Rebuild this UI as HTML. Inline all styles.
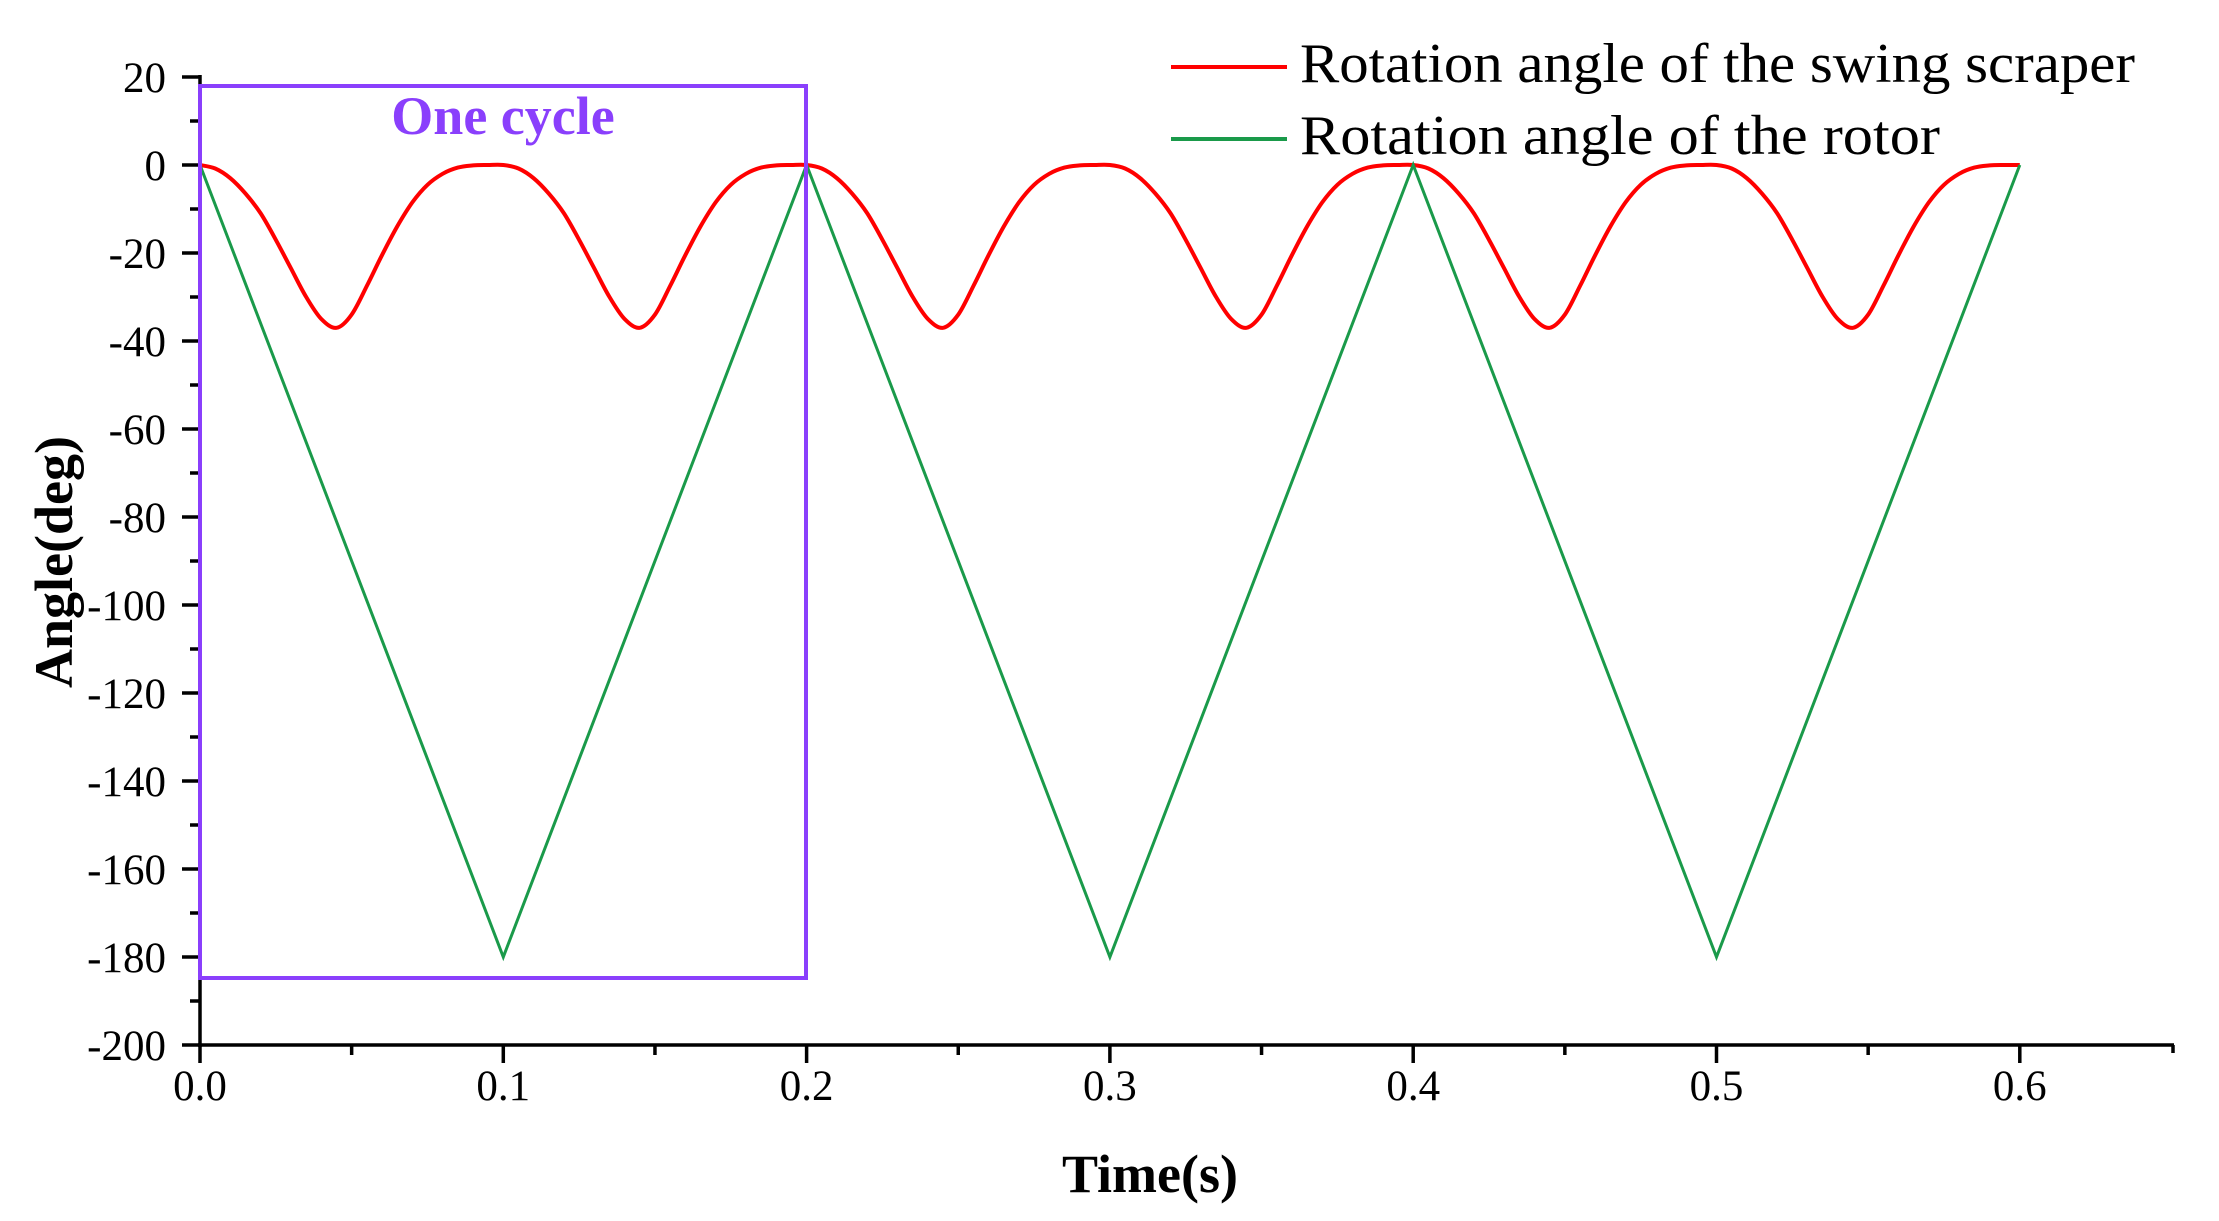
<!DOCTYPE html>
<html><head><meta charset="utf-8"><style>
html,body{margin:0;padding:0;background:#fff;}
svg{display:block;}
text{font-family:"Liberation Serif",serif;}
</style></head><body>
<svg id="chart" width="2219" height="1221" viewBox="0 0 2219 1221" xmlns="http://www.w3.org/2000/svg">
<g id="axes"></g>
<g id="series"></g>
<rect x="200" y="86" width="606" height="892" fill="none" stroke="#8a3ffc" stroke-width="4"/>
<text x="503" y="134" font-size="54" font-weight="bold" fill="#8a3ffc" text-anchor="middle">One cycle</text>
<g>
<line x1="1171" y1="67" x2="1287" y2="67" stroke="#ff0000" stroke-width="4"/>
<text x="1300" y="82" font-size="56" fill="#000" textLength="835" lengthAdjust="spacingAndGlyphs">Rotation angle of the swing scraper</text>
<line x1="1171" y1="139" x2="1287" y2="139" stroke="#1a9a4a" stroke-width="4"/>
<text x="1300" y="154" font-size="56" fill="#000" textLength="640" lengthAdjust="spacingAndGlyphs">Rotation angle of the rotor</text>
</g>
<text x="1150" y="1192" font-size="54" font-weight="bold" text-anchor="middle">Time(s)</text>
<text transform="translate(72,562) rotate(-90)" font-size="54" font-weight="bold" text-anchor="middle">Angle(deg)</text>
</svg>
<script>
const xTicks = [0.0, 0.1, 0.2, 0.3, 0.4, 0.5, 0.6];
const xTickLabels = ["0.0","0.1","0.2","0.3","0.4","0.5","0.6"];
const yTicks = [20, 0, -20, -40, -60, -80, -100, -120, -140, -160, -180, -200];
const yTickLabels = ["20","0","-20","-40","-60","-80","-100","-120","-140","-160","-180","-200"];
const rotorTime = [0, 0.1, 0.2, 0.3, 0.4, 0.5, 0.6];
const rotorAngle = [0, -180, 0, -180, 0, -180, 0];
const scraperAngle = [
0,-0.8,-3,-6.5,-11,-17,-23.5,-30,-35,-37,-34,-27.5,-20.5,-14,-8.5,-4.5,-2,-0.6,-0.1,0,
0,-0.8,-3,-6.5,-11,-17,-23.5,-30,-35,-37,-34,-27.5,-20.5,-14,-8.5,-4.5,-2,-0.6,-0.1,0,
0,-0.8,-3,-6.5,-11,-17,-23.5,-30,-35,-37,-34,-27.5,-20.5,-14,-8.5,-4.5,-2,-0.6,-0.1,0,
0,-0.8,-3,-6.5,-11,-17,-23.5,-30,-35,-37,-34,-27.5,-20.5,-14,-8.5,-4.5,-2,-0.6,-0.1,0,
0,-0.8,-3,-6.5,-11,-17,-23.5,-30,-35,-37,-34,-27.5,-20.5,-14,-8.5,-4.5,-2,-0.6,-0.1,0,
0,-0.8,-3,-6.5,-11,-17,-23.5,-30,-35,-37,-34,-27.5,-20.5,-14,-8.5,-4.5,-2,-0.6,-0.1,0,
0];
const scraperStep = 0.005;

const NS = "http://www.w3.org/2000/svg";
const X0 = 200, XPER = 3033; // px per second
const Y0 = 165, YPER = 4.4;  // px per degree
function xs(t){ return X0 + t * XPER; }
function ys(v){ return Y0 - v * YPER; }
function mk(tag, attrs, parent){
  const e = document.createElementNS(NS, tag);
  for (const k in attrs) e.setAttribute(k, attrs[k]);
  parent.appendChild(e);
  return e;
}
const axes = document.getElementById('axes');
const series = document.getElementById('series');

const yAxis = mk('line', {x1:X0, y1:ys(20)-2, x2:X0, y2:ys(-200)+2, stroke:'#000','stroke-width':3.5}, axes);


const xAxis = mk('line', {x1:X0-2, y1:ys(-200), x2:2174, y2:ys(-200), stroke:'#000','stroke-width':3.5}, axes);


const xEnd = mk('line', {x1:2173, y1:ys(-200), x2:2173, y2:ys(-200)+8, stroke:'#000','stroke-width':3.5}, axes);



yTicks.forEach((v, i) => {
  const y = ys(v);
  const tk = mk('line', {x1:X0-18, y1:y, x2:X0, y2:y, stroke:'#000','stroke-width':3.5}, axes);
  
  
  if (i < yTicks.length - 1) {
    const ym = ys(v - 10);
    const mt = mk('line', {x1:X0-10, y1:ym, x2:X0, y2:ym, stroke:'#000','stroke-width':3.5}, axes);
    
    
  }
  const lb = mk('text', {x:166, y:y+15, 'font-size':43, 'text-anchor':'end'}, axes);
  lb.textContent = yTickLabels[i];
  
  
});
const yB = ys(-200);
xTicks.forEach((t, i) => {
  const x = xs(t);
  const tk = mk('line', {x1:x, y1:yB, x2:x, y2:yB+18, stroke:'#000','stroke-width':3.5}, axes);
  
  
  const xm = xs(t + 0.05);
  if (xm < 2170) {
    const mt = mk('line', {x1:xm, y1:yB, x2:xm, y2:yB+10, stroke:'#000','stroke-width':3.5}, axes);
    
    
  }
  const lb = mk('text', {x:x, y:yB+55, 'font-size':43, 'text-anchor':'middle'}, axes);
  lb.textContent = xTickLabels[i];
  
  
});

const gPts = rotorTime.map((t, i) => xs(t).toFixed(1) + ',' + ys(rotorAngle[i]).toFixed(1)).join(' ');
const gLine = mk('polyline', {points:gPts, fill:'none', stroke:'#1a9a4a', 'stroke-width':3, 'stroke-linejoin':'miter'}, series);



const P = scraperAngle.map((v, i) => [xs(i * scraperStep), ys(v)]);
let d = 'M' + P[0][0].toFixed(1) + ',' + P[0][1].toFixed(1);
for (let i = 0; i < P.length - 1; i++) {
  const p0 = P[Math.max(0, i-1)], p1 = P[i], p2 = P[i+1], p3 = P[Math.min(P.length-1, i+2)];
  const c1 = [p1[0] + (p2[0]-p0[0])/6, p1[1] + (p2[1]-p0[1])/6];
  const c2 = [p2[0] - (p3[0]-p1[0])/6, p2[1] - (p3[1]-p1[1])/6];
  d += ' C' + c1[0].toFixed(1) + ',' + c1[1].toFixed(1) + ' ' + c2[0].toFixed(1) + ',' + c2[1].toFixed(1) + ' ' + p2[0].toFixed(1) + ',' + p2[1].toFixed(1);
}
const rLine = mk('path', {d:d, fill:'none', stroke:'#ff0000', 'stroke-width':4}, series);


series.appendChild(gLine);
</script>
</body></html>
